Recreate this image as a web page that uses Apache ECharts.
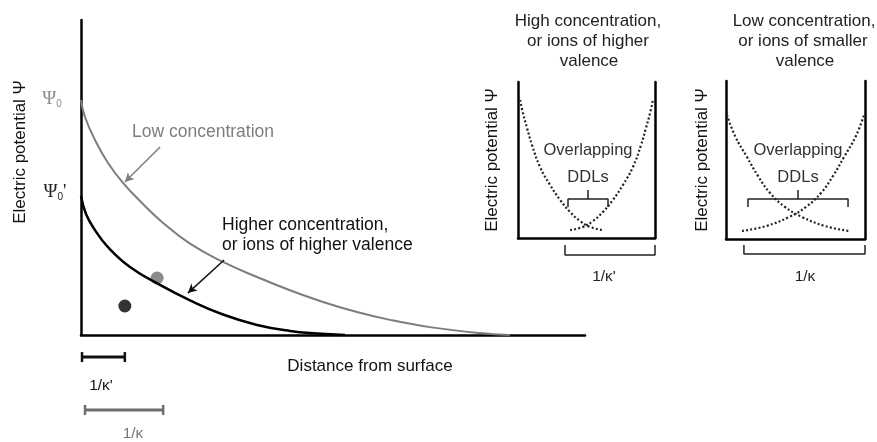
<!DOCTYPE html>
<html>
<head>
<meta charset="utf-8">
<script src="https://cdn.jsdelivr.net/npm/echarts@6/dist/echarts.min.js"></script>
<style>html,body{margin:0;padding:0;background:#fff}#c{width:877px;height:442px}</style>
</head>
<body>
<div id="c"></div>
<script>
// ---- Main panel (distance units 0..100, potential units 0..100) ----
var lowConcCurve = [[0,74.6],[0.79,69.2],[2.78,61.9],[5.36,54.6],[8.33,48.3],[12.1,41.9],[16.07,35.9],[21.63,29.0],[28.17,23.2],[34.92,18.4],[41.47,14.2],[48.02,10.5],[54.76,7.3],[61.31,4.8],[69.25,2.5],[79.17,0.6],[85.1,0]];
var highConcCurve = [[0,44.1],[0.99,38.4],[2.78,33.3],[5.36,27.9],[9.72,21.6],[15.67,15.9],[21.63,11.0],[28.17,6.5],[34.92,3.2],[41.47,1.3],[46.83,0.5],[52.38,0]];
var grayDot = [[15.1,18.1]];
var blackDot = [[8.7,9.2]];
var grayArrow = [[15.7,59.7],[8.7,48.6]];
var blackArrow = [[28.4,23.8],[21.2,13.3]];
var debyeHigh = [[0.2,-7.0],[8.7,-7.0]];   // 1/κ'
var debyeLow = [[0.8,-23.8],[16.3,-23.8]]; // 1/κ

// ---- Inset 1: high concentration ----
var in1Left = [[1.5,88.5],[3.6,80.1],[6.6,70.5],[10.2,59.6],[16.1,45.5],[23.4,34.0],[30.7,24.4],[38.0,16.7],[45.3,10.9],[52.6,7.1],[62.0,5.1]];
var in1Right = [[38.0,5.1],[47.4,7.1],[54.7,10.9],[62.0,16.7],[69.3,24.4],[76.6,34.0],[83.9,45.5],[89.8,59.6],[93.4,70.5],[96.4,80.1],[98.5,88.5]];
var in1Bracket = [[36.5,19.9],[36.5,25.0],[65.7,25.0],[65.7,19.9]];
var in1BracketTick = [[51.1,25.0],[51.1,30.8]];
var in1Lower = [[34.3,-4.5],[34.3,-10.9],[100,-10.9],[100,-4.5]];

// ---- Inset 2: low concentration ----
var in2Left = [[0.7,78.5],[6.5,65.2],[15.1,51.9],[23.0,39.9],[31.7,29.1],[42.4,20.3],[54.7,13.9],[71.2,8.2],[88.5,5.1]];
var in2Right = [[11.5,5.1],[28.8,8.2],[45.3,13.9],[57.6,20.3],[68.3,29.1],[77.0,39.9],[84.9,51.9],[93.5,65.2],[99.3,78.5]];
var in2Bracket = [[15.8,20.3],[15.8,25.3],[87.8,25.3],[87.8,20.3]];
var in2BracketTick = [[51.8,25.3],[51.8,31.0]];
var in2Lower = [[12.9,-3.8],[12.9,-9.5],[100,-9.5],[100,-3.8]];

var FONT = '"Liberation Sans", Arial, sans-serif';
var SERIF = '"Liberation Serif", "DejaVu Serif", serif';

function valAxis(gi, extra) {
  var a = {type:'value', gridIndex:gi, min:0, max:100,
    axisLine:{show:true, onZero:false, lineStyle:{color:'#000', width:2.5}},
    axisTick:{show:false}, axisLabel:{show:false}, splitLine:{show:false}};
  if (extra) for (var k in extra) a[k] = extra[k];
  return a;
}
function segLine(xi, yi, data, color, width, type, sym) {
  return {type:'line', xAxisIndex:xi, yAxisIndex:yi, data:data, clip:false,
    symbol: sym ? 'rect' : 'none', symbolSize: sym ? [2.5, 10] : 0, showSymbol: !!sym,
    itemStyle:{color:color}, silent:true,
    lineStyle:{color:color, width:width, type:type || 'solid'}};
}
function curve(xi, yi, data, color, width, type) {
  var s = segLine(xi, yi, data, color, width, type, false);
  s.smooth = 0.45; s.clip = true;
  return s;
}
function arrow(xi, yi, pts, color) {
  return {type:'line', xAxisIndex:xi, yAxisIndex:yi, data:[], silent:true,
    markLine:{silent:true, symbol:['none','arrow'], symbolSize:[7,9], label:{show:false},
      lineStyle:{color:color, width:1.5, type:'solid'},
      data:[[{coord:pts[0]},{coord:pts[1]}]]}};
}
function txt(x, y, s, size, color, align, rot) {
  var g = {type:'text', x:x, y:y, silent:true,
    style:{text:s, font: size + 'px ' + FONT, fill:color || '#222', textAlign:align || 'center', textVerticalAlign:'middle'}};
  if (rot) g.rotation = rot;
  return g;
}

var option = {
  animation:false,
  backgroundColor:'#fff',
  grid:[
    {left:81, top:20, width:504, height:315},
    {left:518, top:82, width:137, height:156},
    {left:726, top:81, width:139, height:158}
  ],
  xAxis:[ valAxis(0), valAxis(1), valAxis(2) ],
  yAxis:[
    valAxis(0),
    valAxis(1),
    valAxis(1, {position:'right'}),
    valAxis(2),
    valAxis(2, {position:'right'})
  ],
  series:[
    curve(0,0, lowConcCurve, '#7d7d7d', 2),
    curve(0,0, highConcCurve, '#000', 2.5),
    {type:'scatter', xAxisIndex:0, yAxisIndex:0, data:grayDot, symbolSize:13, itemStyle:{color:'#6e6e6e'}, silent:true},
    {type:'scatter', xAxisIndex:0, yAxisIndex:0, data:blackDot, symbolSize:13, itemStyle:{color:'#000'}, silent:true},
    arrow(0,0, grayArrow, '#7d7d7d'),
    arrow(0,0, blackArrow, '#111'),
    segLine(0,0, debyeHigh, '#111', 3, 'solid', true),
    segLine(0,0, debyeLow, '#6e6e6e', 3, 'solid', true),

    curve(1,1, in1Left, '#222', 2.2, [2,2.2]),
    curve(1,1, in1Right, '#222', 2.2, [2,2.2]),
    segLine(1,1, in1Bracket, '#222', 1.5),
    segLine(1,1, in1BracketTick, '#222', 1.5),
    segLine(1,1, in1Lower, '#222', 1.5),

    curve(2,3, in2Left, '#222', 2.2, [2,2.2]),
    curve(2,3, in2Right, '#222', 2.2, [2,2.2]),
    segLine(2,3, in2Bracket, '#222', 1.5),
    segLine(2,3, in2BracketTick, '#222', 1.5),
    segLine(2,3, in2Lower, '#222', 1.5)
  ],
  graphic:[
    txt(20, 152, 'Electric potential Ψ', 17, '#111', 'center', Math.PI/2),
    {type:'text', x:52, y:99, silent:true, style:{text:'{a|Ψ}{b|0}', textAlign:'center', textVerticalAlign:'middle',
      rich:{a:{font:'19px ' + SERIF, fill:'#8a8a8a'}, b:{font:'10px ' + FONT, fill:'#8a8a8a', padding:[10,0,0,0]}}}},
    {type:'text', x:55, y:192, silent:true, style:{text:"{a|Ψ}{b|0}{a|'}", textAlign:'center', textVerticalAlign:'middle',
      rich:{a:{font:'19px ' + SERIF, fill:'#222'}, b:{font:'10px ' + FONT, fill:'#222', padding:[10,0,0,0]}}}},
    txt(132, 132, 'Low concentration', 17.5, '#7d7d7d', 'left'),
    txt(222, 225, 'Higher concentration,', 17.5, '#111', 'left'),
    txt(222, 245, 'or ions of higher valence', 17.5, '#111', 'left'),
    txt(370, 366, 'Distance from surface', 17, '#111'),
    txt(101, 386, "1/κ'", 15.5, '#111'),
    txt(133, 434, '1/κ', 15.5, '#777'),

    txt(588, 21, 'High concentration,', 17, '#222'),
    txt(588, 41, 'or ions of higher', 17, '#222'),
    txt(589, 61, 'valence', 17, '#222'),
    txt(492, 160, 'Electric potential Ψ', 17, '#111', 'center', Math.PI/2),
    txt(588, 150, 'Overlapping', 16.5, '#333'),
    txt(588, 177, 'DDLs', 16.5, '#333'),
    txt(604, 277, "1/κ'", 15.5, '#222'),

    txt(804, 21, 'Low concentration,', 17, '#222'),
    txt(803, 41, 'or ions of smaller', 17, '#222'),
    txt(805, 61, 'valence', 17, '#222'),
    txt(702, 160, 'Electric potential Ψ', 17, '#111', 'center', Math.PI/2),
    txt(798, 150, 'Overlapping', 16.5, '#333'),
    txt(798, 177, 'DDLs', 16.5, '#333'),
    txt(805, 277, '1/κ', 15.5, '#222')
  ]
};

var chart = echarts.init(document.getElementById('c'), null, {renderer:'canvas'});
chart.setOption(option);
</script>
</body>
</html>
